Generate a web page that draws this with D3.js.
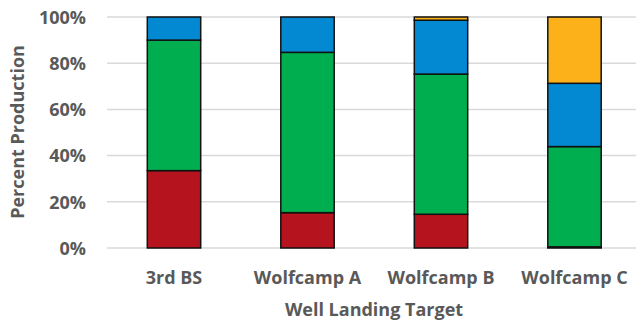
<!DOCTYPE html>
<html>
<head>
<meta charset="utf-8">
<script src="https://cdn.jsdelivr.net/npm/d3@7/dist/d3.min.js"></script>
<style>
  html, body { margin: 0; padding: 0; background: #fff; }
  svg { display: block; }
  text { font-family: "Open Sans", "Noto Sans", sans-serif; font-weight: 700; fill: #595959; }
</style>
</head>
<body>
<svg id="chart" width="636" height="321"></svg>
<script>
// Well landing targets along the x axis
const categories = ["3rd BS", "Wolfcamp A", "Wolfcamp B", "Wolfcamp C"];

// Share of production per landing target (%), stacked bottom to top
const seriesRed    = [33.5, 15.3, 14.6, 0.5];
const seriesGreen  = [56.5, 69.4, 60.7, 43.4];
const seriesBlue   = [10.0, 15.3, 23.3, 27.4];
const seriesYellow = [0.0,  0.0,  1.4,  28.7];

const yTicks = [0, 20, 40, 60, 80, 100];

const seriesKeys = ["red", "green", "blue", "yellow"];
const seriesColors = {
  red: "#B5141E",
  green: "#00AD4F",
  blue: "#0389D2",
  yellow: "#FCB11A"
};

const rows = categories.map((c, i) => ({
  category: c,
  red: seriesRed[i],
  green: seriesGreen[i],
  blue: seriesBlue[i],
  yellow: seriesYellow[i]
}));

const svg = d3.select("#chart");

const x = d3.scaleBand()
  .domain(categories)
  .range([107.25, 641.25])
  .paddingInner(0.6)
  .paddingOuter(0.3);

const y = d3.scaleLinear()
  .domain([0, 100])
  .range([248, 17]);

// Horizontal gridlines
svg.append("g")
  .selectAll("line")
  .data(yTicks)
  .join("line")
  .attr("x1", 107)
  .attr("x2", 641)
  .attr("y1", d => y(d))
  .attr("y2", d => y(d))
  .attr("stroke", "#d9d9d9")
  .attr("stroke-width", 1.5);

// Y tick labels
const yAxis = d3.axisLeft(y)
  .tickValues(yTicks)
  .tickFormat(d => d + "%")
  .tickSize(0)
  .tickPadding(0);

const yg = svg.append("g")
  .attr("transform", "translate(86,0)")
  .call(yAxis);
yg.select(".domain").remove();
yg.selectAll("text")
  .attr("font-size", 18)
  .attr("fill", "#595959")
  .style("font-family", "\"Open Sans\", sans-serif")
  .style("font-weight", 700)
  .attr("dy", "0.35em");

// Stacked bars
const stack = d3.stack().keys(seriesKeys);
const layers = stack(rows);

svg.append("g")
  .selectAll("g")
  .data(layers)
  .join("g")
  .attr("fill", d => seriesColors[d.key])
  .selectAll("rect")
  .data(d => d.filter(p => p[1] - p[0] > 0))
  .join("rect")
  .attr("x", d => x(d.data.category))
  .attr("width", x.bandwidth())
  .attr("y", d => y(d[1]))
  .attr("height", d => y(d[0]) - y(d[1]))
  .attr("stroke", "#111")
  .attr("stroke-width", 1.5);

// X category labels
const xAxis = d3.axisBottom(x).tickSize(0).tickPadding(0);
const xg = svg.append("g")
  .attr("transform", "translate(0,284)")
  .call(xAxis);
xg.select(".domain").remove();
xg.selectAll("text")
  .attr("font-size", 18)
  .attr("fill", "#595959")
  .attr("dy", 0)
  .attr("y", 0)
  .style("font-family", "\"Open Sans\", sans-serif")
  .style("font-weight", 700);

// Axis titles
svg.append("text")
  .attr("x", 374)
  .attr("y", 316)
  .attr("text-anchor", "middle")
  .attr("font-size", 18)
  .text("Well Landing Target");

svg.append("text")
  .attr("transform", "translate(24,132) rotate(-90)")
  .attr("text-anchor", "middle")
  .attr("font-size", 18)
  .text("Percent Production");
</script>
</body>
</html>
